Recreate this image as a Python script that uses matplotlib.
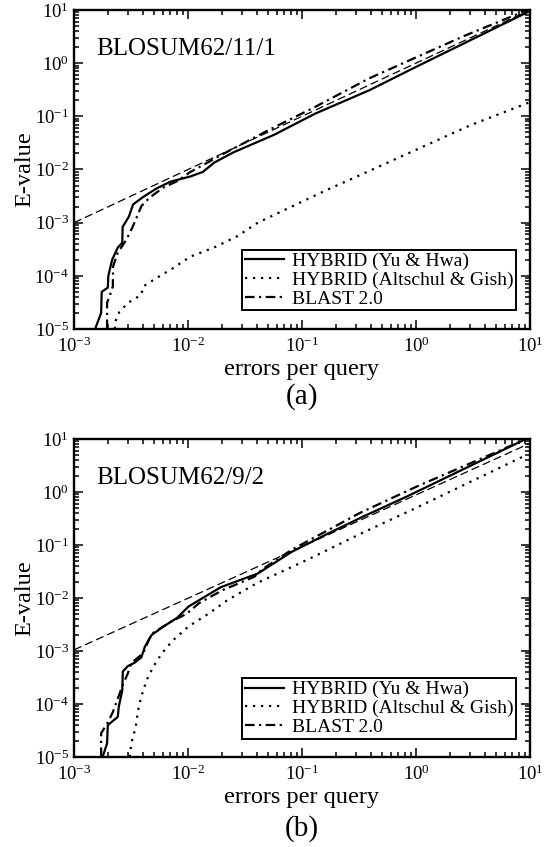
import numpy as np
import matplotlib
matplotlib.use("Agg")
import matplotlib.pyplot as plt
from matplotlib.ticker import LogLocator, NullFormatter

plt.rcParams['font.family'] = ['Liberation Serif', 'DejaVu Serif']
plt.rcParams['mathtext.fontset'] = 'custom'
plt.rcParams['mathtext.rm'] = 'Liberation Serif'

# panel (a) BLOSUM62/11/1
a_yh_x = [1.53e-3, 1.73e-3, 1.75e-3, 1.98e-3, 2.0e-3, 2.16e-3, 2.42e-3, 2.65e-3, 2.67e-3,
          3.03e-3, 3.3e-3, 4.0e-3, 5.3e-3, 7.0e-3, 1.05e-2, 1.35e-2, 1.7e-2, 2.5e-2,
          5.7e-2, 0.13, 0.39, 1.0, 9.4]
a_yh_y = [1e-5, 2e-5, 5e-5, 6e-5, 1e-4, 2e-4, 3.4e-4, 4.2e-4, 8.3e-4,
          1.3e-3, 2.2e-3, 3.0e-3, 4.4e-3, 5.9e-3, 7.4e-3, 9e-3, 1.35e-2, 2.1e-2,
          4.5e-2, 0.112, 0.31, 0.85, 9.0]
a_ag_x = [2.28e-3, 2.31e-3, 2.5e-3, 2.97e-3, 3.9e-3, 4.04e-3, 5.3e-3, 7.4e-3, 1.05e-2,
          1.69e-2, 2.72e-2, 4.1e-2, 0.16, 0.415, 3.0, 10.0]
a_ag_y = [1e-5, 1.4e-5, 2.1e-5, 3.1e-5, 4.4e-5, 6.3e-5, 9.1e-5, 1.4e-4, 2.3e-4,
          3.4e-4, 5.6e-4, 1e-3, 4.0e-3, 1.0e-2, 0.068, 0.185]
a_bl_x = [1.95e-3, 1.95e-3, 2.05e-3, 2.19e-3, 2.2e-3, 2.42e-3, 2.88e-3, 3.25e-3, 3.65e-3,
          3.9e-3, 4.6e-3, 6.1e-3, 8e-3, 1.05e-2, 2.07e-2, 5.0e-2, 0.13, 0.39, 2.6, 9.5]
a_bl_y = [1e-5, 3.1e-5, 4.1e-5, 6.3e-5, 1.5e-4, 2.7e-4, 4.8e-4, 8.1e-4, 1.45e-3,
          2.05e-3, 2.95e-3, 4.6e-3, 6e-3, 9.0e-3, 2.0e-2, 5.4e-2, 0.15, 0.52, 3.2, 10.0]
a_ref_x = [1e-3, 10.0]
a_ref_y = [1e-3, 10.0]

# panel (b) BLOSUM62/9/2
b_yh_x = [1.78e-3, 1.95e-3, 1.98e-3, 2.42e-3, 2.47e-3, 2.65e-3, 2.68e-3, 2.97e-3, 3.4e-3,
          3.9e-3, 4.18e-3, 4.79e-3, 6.1e-3, 8e-3, 1.01e-2, 1.94e-2, 4.1e-2, 8.1e-2,
          0.16, 0.34, 0.82, 9.2]
b_yh_y = [1e-5, 1.8e-5, 4e-5, 5.7e-5, 8.9e-5, 1.8e-4, 4.1e-4, 5.2e-4, 6.0e-4,
          7.6e-4, 1.2e-3, 2.0e-3, 2.9e-3, 4.2e-3, 6.9e-3, 1.6e-2, 2.9e-2, 7.4e-2,
          0.155, 0.34, 0.81, 10.0]
b_ag_x = [3.08e-3, 3.18e-3, 3.48e-3, 3.65e-3, 3.9e-3, 4.33e-3, 4.95e-3, 5.9e-3, 7.4e-3,
          1.01e-2, 1.5e-2, 2.2e-2, 4.0e-2, 0.11, 0.35, 1.0, 9.3]
b_ag_y = [1e-5, 1.8e-5, 3.7e-5, 7.7e-5, 1.4e-4, 2.8e-4, 5e-4, 9.1e-4, 1.6e-3,
          2.9e-3, 5e-3, 9e-3, 1.9e-2, 5.2e-2, 0.175, 0.5, 5.0]
b_bl_x = [1.73e-3, 1.73e-3, 1.98e-3, 2.19e-3, 2.68e-3, 2.97e-3, 3.18e-3, 4.04e-3, 4.79e-3,
          6.97e-3, 9.8e-3, 1.24e-2, 2.0e-2, 3.8e-2, 4.5e-2, 8.1e-2, 0.32, 1.0, 9.3]
b_bl_y = [1e-5, 2.8e-5, 4.5e-5, 7e-5, 2.3e-4, 3.8e-4, 5.9e-4, 9.1e-4, 2.1e-3,
          3.5e-3, 5.1e-3, 7.9e-3, 1.4e-2, 2.5e-2, 3.5e-2, 8.1e-2, 0.40, 1.25, 10.0]
b_ref_x = [1e-3, 10.0]
b_ref_y = [1.05e-3, 8.3]

labels = ['HYBRID (Yu & Hwa)', 'HYBRID (Altschul & Gish)', 'BLAST 2.0']
titles = ['BLOSUM62/11/1', 'BLOSUM62/9/2']
panels = ['(a)', '(b)']

fig = plt.figure(figsize=(5.49, 8.47), dpi=100)
ax_a = fig.add_axes([74 / 549, 1 - 329 / 847, 456 / 549, 319 / 847])
ax_b = fig.add_axes([74 / 549, 1 - 757 / 847, 456 / 549, 318 / 847])

data = [
    (ax_a, a_yh_x, a_yh_y, a_ag_x, a_ag_y, a_bl_x, a_bl_y, a_ref_x, a_ref_y),
    (ax_b, b_yh_x, b_yh_y, b_ag_x, b_ag_y, b_bl_x, b_bl_y, b_ref_x, b_ref_y),
]

for i, (ax, yx, yy, gx, gy, bx, by, rx, ry) in enumerate(data):
    ax.plot(rx, ry, color='black', lw=0.9, linestyle=(0, (6.5, 3.2)))
    ax.plot(yx, yy, color='black', lw=1.6, label=labels[0])
    ax.plot(gx, gy, color='black', lw=1.6, linestyle=(0, (1, 2.6)), label=labels[1])
    ax.plot(bx, by, color='black', lw=1.6, linestyle=(0, (4.3, 2, 1, 2)), label=labels[2])

    ax.set_xscale('log')
    ax.set_yscale('log')
    ax.set_xlim(1e-3, 10)
    ax.set_ylim(1e-5, 10)
    for axis in (ax.xaxis, ax.yaxis):
        axis.set_major_locator(LogLocator(base=10, numticks=20))
        axis.set_minor_locator(LogLocator(base=10, subs=np.arange(2, 10), numticks=100))
        axis.set_minor_formatter(NullFormatter())
    ax.tick_params(which='both', direction='in', top=True, right=True, width=1.1)
    ax.tick_params(which='major', length=6.5, labelsize=13.5)
    ax.tick_params(axis='x', which='major', pad=5.5)
    ax.tick_params(axis='y', which='major', pad=3.5)
    ax.tick_params(which='minor', length=3.5)
    for sp in ax.spines.values():
        sp.set_linewidth(1.7)

    ax.set_xlabel('errors per query', fontsize=17.5)
    ax.set_ylabel('E-value', fontsize=17.5)
    ax.xaxis.set_label_coords(0.5, -0.093)
    ax.yaxis.set_label_coords(-0.085, 0.5)
    ax.text(0.048, 0.86, titles[i], transform=ax.transAxes, fontsize=18, va='baseline')

    leg = ax.legend(loc='lower right', bbox_to_anchor=(0.97, 0.058), fontsize=14,
                    frameon=True, fancybox=False, framealpha=1, edgecolor='black',
                    borderpad=0.15, labelspacing=0.05, handlelength=2.0,
                    handletextpad=0.4, borderaxespad=0)
    leg.get_frame().set_linewidth(1.4)

fig.text(302 / 549, 1 - 397 / 847, panels[0], ha='center', va='center', fontsize=21)
fig.text(302 / 549, 1 - 829 / 847, panels[1], ha='center', va='center', fontsize=21)

fig.savefig('out.png', dpi=100)
